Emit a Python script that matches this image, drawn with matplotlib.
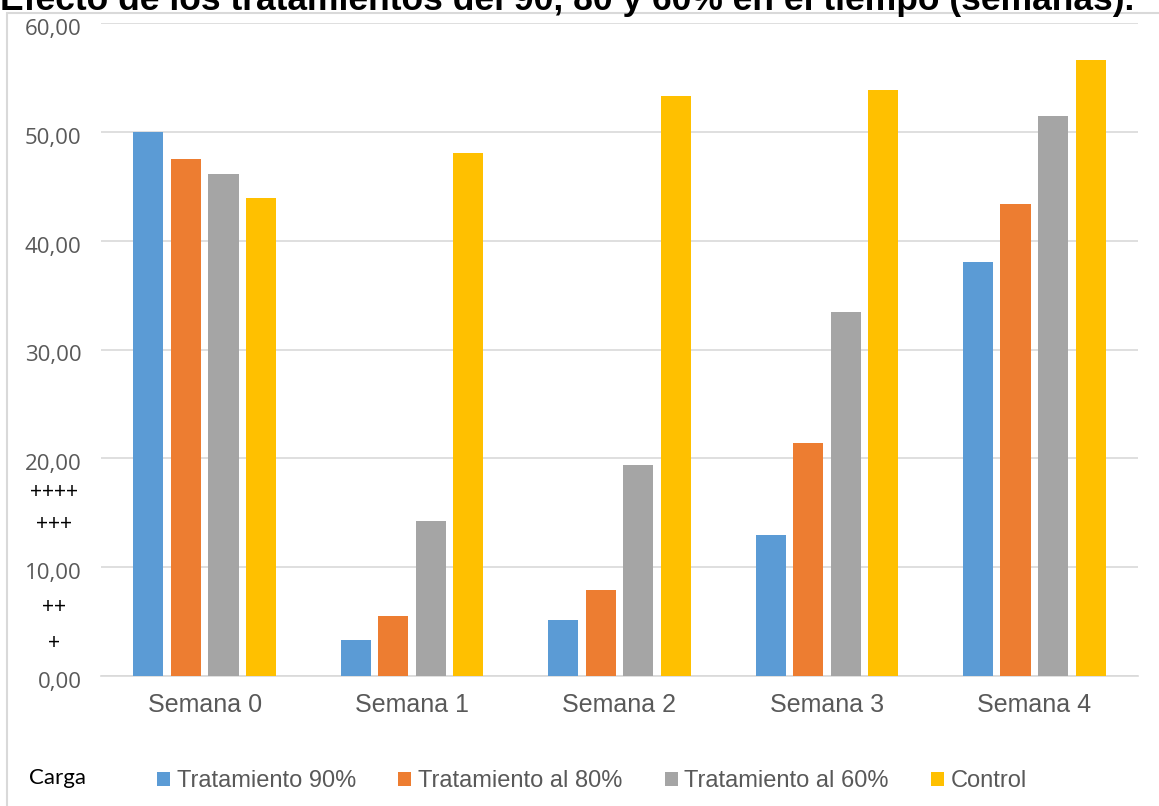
import matplotlib
matplotlib.use("agg")
import matplotlib.pyplot as plt
import matplotlib.transforms as mtrans
import numpy as np

semanas = ["Semana 0", "Semana 1", "Semana 2", "Semana 3", "Semana 4"]
series = ["Tratamiento 90%", "Tratamiento al 80%", "Tratamiento al 60%", "Control"]
trat_90 = [50.0, 3.3, 5.1, 13.0, 38.0]
trat_80 = [47.5, 5.5, 7.9, 21.4, 43.4]
trat_60 = [46.1, 14.2, 19.4, 33.4, 51.5]
control = [43.9, 48.1, 53.3, 53.8, 56.6]
colores = ["#5B9BD5", "#ED7D31", "#A5A5A5", "#FFC000"]
y_ticks = [0, 10, 20, 30, 40, 50, 60]
marcas = ["+", "++", "+++", "++++"]
marcas_y = [3.0, 6.3, 14.0, 16.9]

W, H = 1159, 806
fig = plt.figure(figsize=(W / 100, H / 100), dpi=100)

# marco del grafico
fig.add_artist(plt.Rectangle((7 / W, -0.1), 1.2, (H - 13) / H + 0.1, transform=fig.transFigure,
                             fill=False, edgecolor="#d9d9d9", linewidth=1.5))

ax = fig.add_axes([101 / W, 130 / H, (1138 - 101) / W, (676 - 23) / H])
x = np.arange(len(semanas))
paso = 0.181
ancho = 0.145
for i, (vals, col) in enumerate(zip([trat_90, trat_80, trat_60, control], colores)):
    ax.bar(x + (i - 1.5) * paso, vals, ancho, color=col, label=series[i], zorder=3)

ax.set_xlim(-0.5, len(semanas) - 0.5)
ax.set_ylim(0, 60)
ax.set_yticks(y_ticks)
ax.set_yticklabels(["%d,00" % v for v in y_ticks], family="Open Sans", fontsize=16, color="#595959")
ax.set_xticks(x)
ax.set_xticklabels(semanas, family="Liberation Sans", fontsize=18, color="#595959")
ax.tick_params(axis="y", length=0, pad=14)
ax.tick_params(axis="x", length=0, pad=12)
# las etiquetas de Excel quedan un poco por debajo de la linea
bajar = mtrans.ScaledTranslation(0, -4 / 100, fig.dpi_scale_trans)
for lab in ax.get_yticklabels():
    lab.set_transform(lab.get_transform() + bajar)
ax.grid(axis="y", color="#d9d9d9", linewidth=1.2, zorder=0)
for s in ["top", "right", "left"]:
    ax.spines[s].set_visible(False)
ax.spines["bottom"].set_color("#d9d9d9")
ax.spines["bottom"].set_linewidth(1.2)

tr_marcas = mtrans.blended_transform_factory(fig.transFigure, ax.transData)
for m, yv in zip(marcas, marcas_y):
    ax.text(54 / W, yv, m, transform=tr_marcas, ha="center", va="center",
            fontsize=15, family="Lato", color="black")

fig.text(58 / W, 1 - 778 / H, "Carga", ha="center", va="center", fontsize=16, family="Lato", color="black")

fig.text(0, 1 - 10 / H, "Efecto de los tratamientos del 90, 80 y 60% en el tiempo (semanas).",
         ha="left", va="baseline", fontsize=25.5, fontweight="bold", family="Liberation Sans")

fig.legend(loc="center", bbox_to_anchor=(592 / W, 1 - 781 / H), ncol=4, frameon=False,
           handlelength=0.55, handleheight=0.55, handletextpad=0.27, columnspacing=1.8,
           prop={"family": "Liberation Sans", "size": 17}, labelcolor="#595959")

fig.savefig("out.png", dpi=100)
